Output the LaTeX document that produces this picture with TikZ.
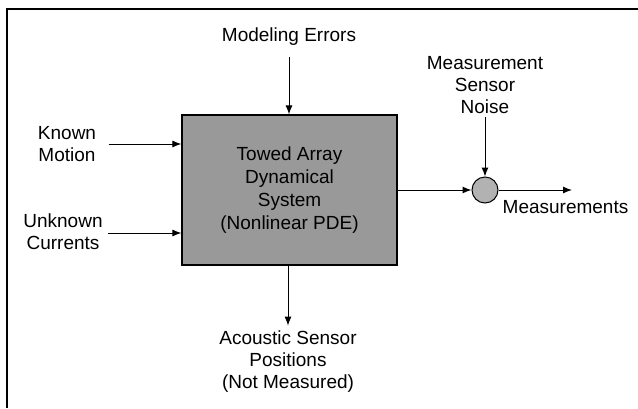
\documentclass[tikz,border=0pt]{standalone}
\usepackage{fontspec}
\setmainfont{Liberation Sans}
\usetikzlibrary{arrows.meta}
\begin{document}
\begin{tikzpicture}[x=1pt,y=-1pt,
  txt/.style={align=center,font=\fontsize{19}{22}\selectfont},
  sysbox/.style={draw,line width=1.2pt,fill=black!40,align=center,
    font=\fontsize{19}{23}\selectfont,minimum width=215pt,minimum height=150pt,inner sep=0pt},
  sumnode/.style={circle,draw,line width=1pt,fill=black!30,minimum size=26pt,inner sep=0pt},
  arr/.style={line width=1pt,-{Latex[length=9pt,width=7pt]}},
  frame/.style={line width=1.2pt}]
\useasboundingbox (0,0) rectangle (638,408);
% frame (only top and left edges visible)
\coordinate (f1) at (6,9);
\coordinate (f2) at (638,9);
\coordinate (f3) at (7,9);
\coordinate (f4) at (7,408);
\draw[frame] (f1) -- (f2);
\draw[frame] (f3) -- (f4);
% nodes
\node[sysbox] (sys) at (289.5,190) {Towed Array\\Dynamical\\System\\(Nonlinear PDE)};
\node[txt] (me) at (289,37) {Modeling Errors};
\node[txt] (km) at (67,144) {Known\\Motion};
\node[txt] (uc) at (63,232) {Unknown\\Currents};
\node[sumnode] (sum) at (485,190) {};
\node[txt] (msn) at (485,85) {Measurement\\Sensor\\Noise};
\node[txt] (meas) at (565.5,207) {Measurements};
\node[txt] (asp) at (288,362) {Acoustic Sensor\\Positions\\(Not Measured)};
\coordinate (mend) at (572,190);
% connectors
\draw[arr,shorten <=8pt] (me.south) -- (sys.north -| me.south);
\draw[arr,shorten <=9pt] (km.east) -- (km.east -| sys.west);
\draw[arr,shorten <=2pt] ([yshift=-1pt]uc.east) -- ([yshift=-1pt]uc.east -| sys.west);
\draw[arr] (sys.east |- sum.west) -- (sum.west);
\draw[arr] (sum.east) -- (mend);
\draw[arr] (msn.south) -- (sum.north);
\draw[arr,shorten >=2pt] (sys.south -| asp.north) -- (asp.north);
\end{tikzpicture}
\end{document}
